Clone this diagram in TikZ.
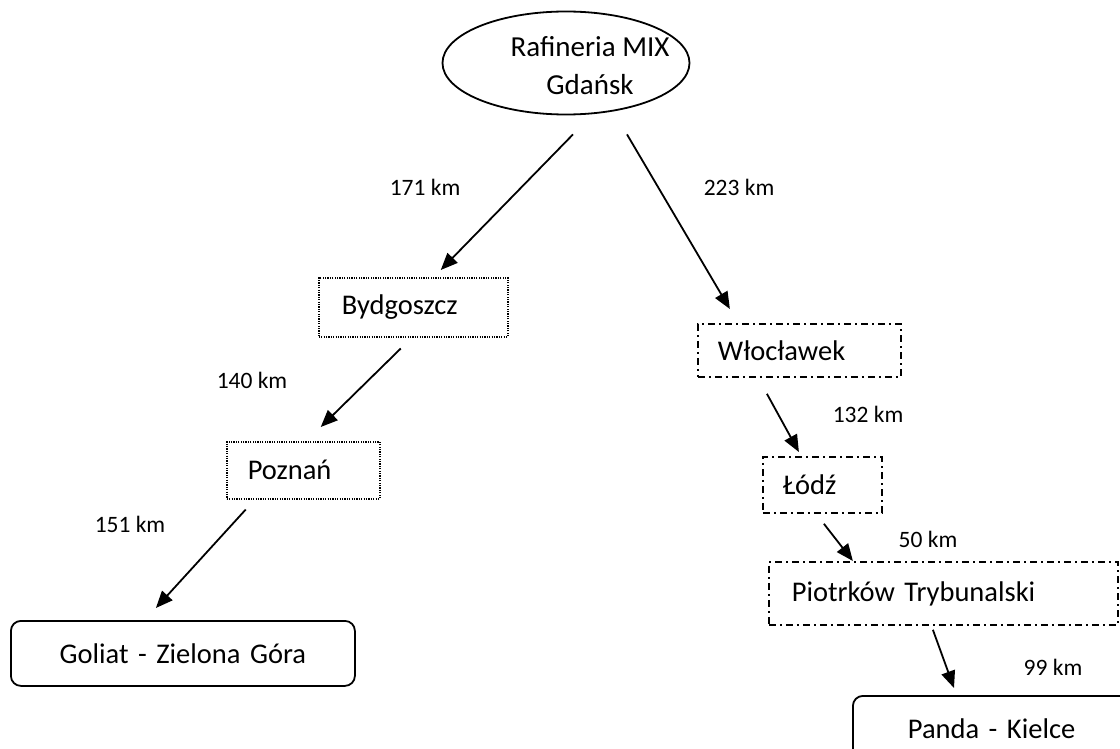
\documentclass[tikz,border=0pt]{standalone}
\usepackage{fontspec}
\setmainfont{Carlito}
\usetikzlibrary{shapes.geometric,arrows.meta,calc}
\begin{document}
\begin{tikzpicture}[x=1pt,y=-1pt,
  every node/.style={font=\fontsize{28.5}{33}\selectfont},
  km/.style={font=\fontsize{23.5}{27}\selectfont, inner sep=0pt},
  base/.style={rectangle, line width=1.5pt, anchor=north west, align=left, inner xsep=0pt},
  dotbox/.style={base, draw, dash pattern=on 1.2pt off 1.2pt},
  dashdotbox/.style={base, draw, line width=1.8pt, dash pattern=on 7pt off 4pt on 2pt off 4pt},
  roundbox/.style={base, draw, line width=1.8pt, rounded corners=10pt, align=center},
  arr/.style={line width=1.8pt, -{Triangle[length=17pt,width=14pt]}, shorten >=0pt}
]
\useasboundingbox (0,0) rectangle (1120,749);

\node[ellipse, draw, line width=1.8pt, minimum width=247, minimum height=103, inner sep=0pt,
  font=\fontsize{29}{35}\selectfont]
  (raf) at (566,63) {\makebox[0pt]{\hspace*{48pt}\raisebox{-11pt}[0pt][0pt]{\def\arraystretch{1.1}\begin{tabular}{@{}c@{}}Rafineria MIX\\Gdańsk\end{tabular}}}};

\node[dotbox, minimum width=189, minimum height=59, text width=165, inner xsep=12pt] (byd) at (318,277) {\hspace*{11pt}Bydgoszcz};
\node[dotbox, minimum width=153, minimum height=57, text width=129, inner xsep=12pt] (poz) at (226,441) {\hspace*{9pt}Poznań};
\node[roundbox, minimum width=344, minimum height=65, text width=320, inner xsep=12pt] (gol) at (10,620) {Goliat - Zielona Góra};

\node[dashdotbox, minimum width=203, minimum height=53, text width=179, inner xsep=12pt] (wlo) at (697,323) {\hspace*{8pt}Włocławek};
\node[dashdotbox, minimum width=119, minimum height=56, text width=95, inner xsep=12pt] (lod) at (762,456) {\hspace*{8pt}Łódź};
\node[dashdotbox, minimum width=349, minimum height=63, text width=325, inner xsep=12pt] (pio) at (768,561) {\hspace*{11pt}Piotrków Trybunalski};
\node[roundbox, minimum width=300, minimum height=66, text width=276, inner xsep=12pt, align=left] (pan) at (852,695) {\hspace*{43pt}Panda - Kielce};

% arrows
\draw[arr] ($(raf.south)+(7,19)$) -- ($(byd.north)+(27.5,-7)$);
\draw[arr] ($(raf.south)+(61,19)$) -- ($(wlo.north)+(-69.5,-14)$);
\draw[arr] ($(byd.south)+(-12.5,11)$) -- ($(poz.north)+(17.5,-14)$);
\draw[arr] ($(wlo.south)+(-32.5,16)$) -- ($(lod.north)+(-23.5,-4)$);
\draw[arr] ($(poz.south)+(-57.5,10)$) -- ($(gol.north)+(-27,-12)$);
\draw[arr] ($(lod.south)+(1.5,10)$) -- ($(pio.north)+(-90.5,0)$);
\draw[arr] ($(pio.south)+(-10.5,4)$) -- ($(pan.north west)+(102,-7)$);

% labels
\node[km] (l1) at (425,187) {171 km};
\node[km] (l2) at (739,187) {223 km};
\node[km] (l3) at (252,380) {140 km};
\node[km] (l4) at (868,414) {132 km};
\node[km] (l5) at (130,524) {151 km};
\node[km] (l6) at (928,539) {50 km};
\node[km] (l7) at (1053,667) {99 km};
\end{tikzpicture}
\end{document}
